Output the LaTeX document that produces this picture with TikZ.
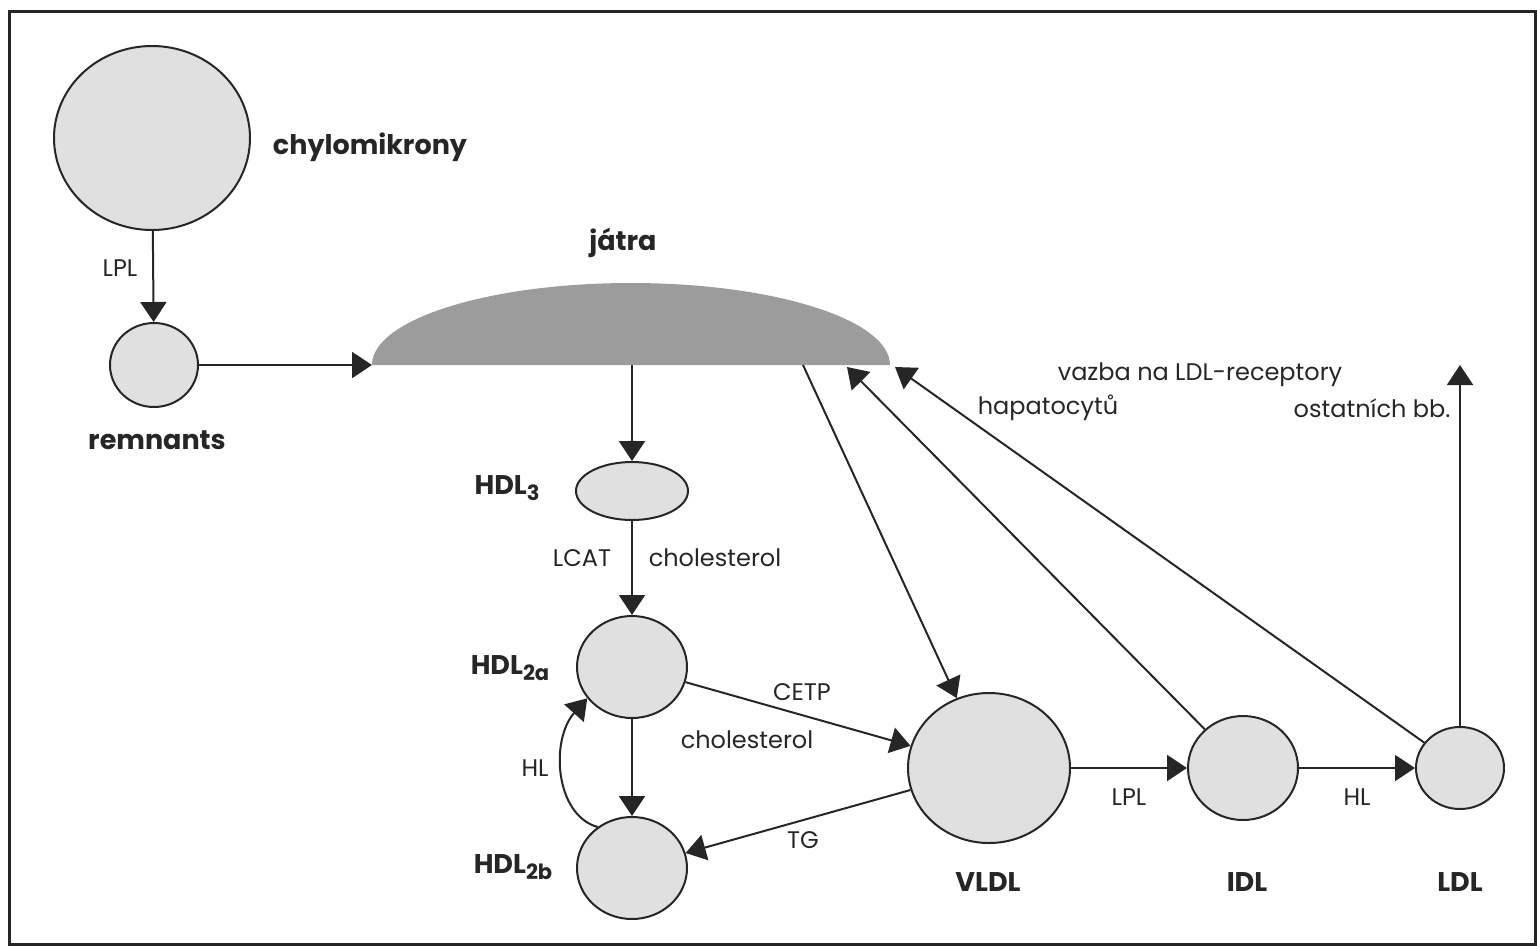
\documentclass[tikz,border=0pt]{standalone}
\usepackage{fontspec}
\setmainfont{Poppins}
\usetikzlibrary{shapes.geometric,arrows.meta}
\definecolor{ink}{HTML}{262626}
\definecolor{blobfill}{HTML}{E0E0E0}
\definecolor{liver}{HTML}{9C9C9C}
\newcommand{\sbx}[1]{\raisebox{-0.35ex}{\fontsize{10.5}{12}\selectfont #1}}
\begin{document}
\begin{tikzpicture}[x=0.5pt,y=-0.5pt,
  particle/.style={ellipse, draw=ink, line width=1pt, fill=blobfill, inner sep=0pt},
  lbl/.style={font=\fontsize{12}{14}\selectfont, text=ink, inner sep=0pt},
  blbl/.style={font=\fontsize{13.5}{16}\selectfont\bfseries, text=ink, inner sep=0pt},
  arr/.style={draw=ink, line width=1pt, -{Triangle[length=10pt,width=13pt]}}]
\useasboundingbox (0,0) rectangle (1537,949);
\draw[ink, line width=1.5pt] (9,11) rectangle (1535,944);

% liver
\fill[liver] (372,365) arc[start angle=180, end angle=360, x radius=259, y radius=82] -- cycle;
\coordinate (jl) at (372,365);
\coordinate (jb1) at (632,365);
\coordinate (jb2) at (803,365);
\coordinate (jt1) at (847,367);
\coordinate (jt2) at (895,367);
\coordinate (ldlup) at (1460,365);

% particles
\node[particle, minimum width=98pt, minimum height=92pt] (chylo) at (152,138) {};
\node[particle, minimum width=44pt, minimum height=42pt] (remn) at (154,365) {};
\node[particle, minimum width=56pt, minimum height=29pt] (hdl3) at (632,491) {};
\node[particle, minimum width=55pt, minimum height=51pt] (hdl2a) at (632,667) {};
\node[particle, minimum width=55pt, minimum height=51pt] (hdl2b) at (632,868) {};
\node[particle, minimum width=81pt, minimum height=75pt] (vldl) at (989,768) {};
\node[particle, minimum width=55pt, minimum height=52pt] (idl) at (1243,768) {};
\node[particle, minimum width=44pt, minimum height=41pt] (ldl) at (1460,768) {};

% labels
\node[blbl] (tchylo) at (370,147) {chylomikrony};
\node[blbl] (tremn) at (157,440) {remnants};
\node[blbl] (tjatra) at (623,243) {játra};
\node[blbl] (thdl3) at (507,488) {HDL\sbx{3}};
\node[blbl] (thdl2a) at (510,668) {HDL\sbx{2a}};
\node[blbl] (thdl2b) at (513,867) {HDL\sbx{2b}};
\node[blbl] (tvldl) at (988,882) {VLDL};
\node[blbl] (tidl) at (1247,882) {IDL};
\node[blbl] (tldl) at (1460,882) {LDL};

\node[lbl] (tlpl1) at (120,268) {LPL};
\node[lbl] (tlcat) at (582,558) {LCAT};
\node[lbl] (tchol1) at (715,558) {cholesterol};
\node[lbl] (thl1) at (535,768) {HL};
\node[lbl] (tcetp) at (802,692) {CETP};
\node[lbl] (tchol2) at (747,740) {cholesterol};
\node[lbl] (ttg) at (803,840) {TG};
\node[lbl] (tlpl2) at (1129,797) {LPL};
\node[lbl] (thl2) at (1357,797) {HL};
\node[lbl] (tvazba) at (1200,375) {vazba na LDL-receptory};
\node[lbl] (thep) at (1048,408) {hapatocytů};
\node[lbl] (tost) at (1372,408) {ostatních bb.};

% connectors
\draw[arr] (chylo) -- (remn);
\draw[arr] (remn) -- (jl);
\draw[arr] (jb1) -- (hdl3);
\draw[arr] (hdl3) -- (hdl2a);
\draw[arr] (hdl2a) -- (hdl2b);
\draw[arr] (hdl2b.130) .. controls (555,815) and (550,740) .. (hdl2a.215);
\draw[arr] (hdl2a) -- (vldl);
\draw[arr] (vldl) -- (hdl2b);
\draw[arr] (jb2) -- (vldl);
\draw[arr] (vldl) -- (idl);
\draw[arr] (idl) -- (ldl);
\draw[arr] (idl) -- (jt1);
\draw[arr] (ldl) -- (jt2);
\draw[arr] (ldl) -- (ldlup);
\end{tikzpicture}
\end{document}
